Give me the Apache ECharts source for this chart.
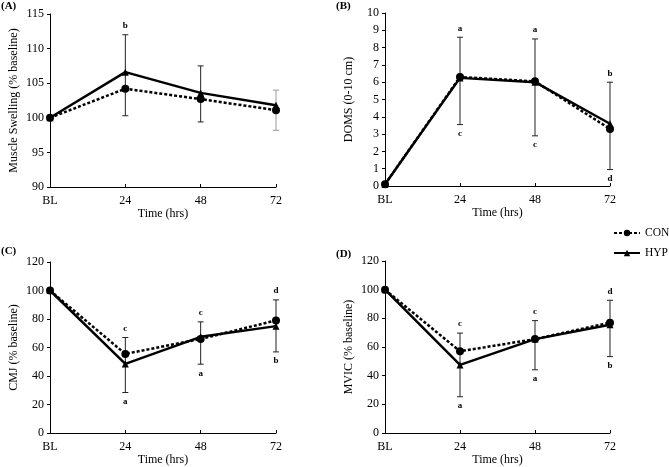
<!DOCTYPE html>
<html>
<head>
<meta charset="utf-8">
<script src="https://cdn.jsdelivr.net/npm/echarts@6/dist/echarts.min.js"></script>
<style>
html,body{margin:0;padding:0;background:#fff;}
#chart{width:669px;height:467px;}
</style>
</head>
<body>
<div id="chart"></div>
<script>
var categories = ['BL', '24', '48', '72'];

// Panel A: Muscle Swelling
var conA = [100, 104.2, 102.7, 101.1];
var hypA = [100, 106.6, 103.6, 101.8];
var barTopA = [null, 112.0, 107.5, 104.0];
var barBotA = [null, 100.3, 99.4, 98.2];
var lettersTopA = ['', 'b', '', ''];
var lettersBotA = ['', '', '', ''];

// Panel B: DOMS
var conB = [0.1, 6.3, 6.05, 3.3];
var hypB = [0.1, 6.25, 6.0, 3.6];
var barTopB = [null, 8.6, 8.5, 6.0];
var barBotB = [null, 3.55, 2.9, 0.95];
var lettersTopB = ['', 'a', 'a', 'b'];
var lettersBotB = ['', 'c', 'c', 'd'];

// Panel C: CMJ
var conC = [100, 55.5, 66, 79];
var hypC = [100, 48.5, 67.5, 75];
var barTopC = [null, 67.0, 78.0, 93.4];
var barBotC = [null, 28.4, 48.3, 56.9];
var lettersTopC = ['', 'c', 'c', 'd'];
var lettersBotC = ['', 'a', 'a', 'b'];

// Panel D: MVIC
var conD = [100, 57, 65.5, 77];
var hypD = [100, 47.5, 65.5, 75.5];
var barTopD = [null, 69.7, 78.4, 92.6];
var barBotD = [null, 25.3, 44.1, 53.3];
var lettersTopD = ['', 'c', 'c', 'd'];
var lettersBotD = ['', 'a', 'a', 'b'];

var panels = [
  {tag: '(A)', yName: 'Muscle Swelling (% baseline)', min: 90, max: 115, interval: 5,
   con: conA, hyp: hypA, top: barTopA, bot: barBotA, lt: lettersTopA, lb: lettersBotA,
   grid: {left: 50, top: 14, width: 226, height: 173}, tagPos: [1, 1], grayLast: true},
  {tag: '(B)', yName: 'DOMS (0-10 cm)', min: 0, max: 10, interval: 1,
   con: conB, hyp: hypB, top: barTopB, bot: barBotB, lt: lettersTopB, lb: lettersBotB,
   grid: {left: 385, top: 13, width: 225, height: 173}, tagPos: [336, 1]},
  {tag: '(C)', yName: 'CMJ (% baseline)', min: 0, max: 120, interval: 20,
   con: conC, hyp: hypC, top: barTopC, bot: barBotC, lt: lettersTopC, lb: lettersBotC,
   grid: {left: 50, top: 262, width: 226, height: 173}, tagPos: [1, 246]},
  {tag: '(D)', yName: 'MVIC (% baseline)', min: 0, max: 120, interval: 20,
   con: conD, hyp: hypD, top: barTopD, bot: barBotD, lt: lettersTopD, lb: lettersBotD,
   grid: {left: 385, top: 261, width: 225, height: 174}, tagPos: [336, 249]}
];

var FONT = 'Liberation Serif';
var grids = [], xAxes = [], yAxes = [], series = [], graphics = [];

panels.forEach(function (p, k) {
  grids.push(p.grid);
  xAxes.push({
    type: 'category', gridIndex: k, data: categories, boundaryGap: false,
    name: 'Time (hrs)', nameLocation: 'middle', nameGap: 21,
    nameTextStyle: {fontFamily: FONT, fontSize: 12, color: '#000'},
    axisLine: {lineStyle: {color: '#000', width: 1}},
    axisTick: {inside: true, length: 3, lineStyle: {color: '#000'}},
    axisLabel: {fontFamily: FONT, fontSize: 12, color: '#000', margin: 8},
    splitLine: {show: false}
  });
  yAxes.push({
    type: 'value', gridIndex: k, min: p.min, max: p.max, interval: p.interval,
    name: p.yName, nameLocation: 'middle', nameGap: 30,
    nameTextStyle: {fontFamily: FONT, fontSize: 12, color: '#000'},
    axisLine: {show: true, lineStyle: {color: '#000', width: 1}},
    axisTick: {show: true, length: 3, lineStyle: {color: '#000'}},
    axisLabel: {fontFamily: FONT, fontSize: 12, color: '#000', margin: 6},
    splitLine: {show: false}
  });

  var barData = [];
  for (var i = 0; i < categories.length; i++) {
    if (p.top[i] != null) barData.push([i, p.bot[i], p.top[i]]);
  }
  (function (p) {
    series.push({
      type: 'custom', xAxisIndex: k, yAxisIndex: k, z: 1, silent: true,
      data: barData,
      encode: {x: 0, y: [1, 2]},
      renderItem: function (params, api) {
        var idx = api.value(0);
        var lo = api.coord([idx, api.value(1)]);
        var hi = api.coord([idx, api.value(2)]);
        var x = lo[0];
        var col = (p.grayLast && idx === 3) ? '#9a9a9a' : '#222';
        var children = [
          {type: 'line', shape: {x1: x, y1: lo[1], x2: x, y2: hi[1]}, style: {stroke: col, lineWidth: 1}},
          {type: 'line', shape: {x1: x - 3, y1: lo[1], x2: x + 3, y2: lo[1]}, style: {stroke: col, lineWidth: 1}},
          {type: 'line', shape: {x1: x - 3, y1: hi[1], x2: x + 3, y2: hi[1]}, style: {stroke: col, lineWidth: 1}}
        ];
        if (p.lt[idx]) {
          children.push({type: 'text', x: x, y: hi[1] - 9,
            style: {text: p.lt[idx], fontFamily: FONT, fontSize: 9, fontWeight: 'bold', fill: '#000', align: 'center', verticalAlign: 'middle'}});
        }
        if (p.lb[idx]) {
          children.push({type: 'text', x: x, y: lo[1] + 9,
            style: {text: p.lb[idx], fontFamily: FONT, fontSize: 9, fontWeight: 'bold', fill: '#000', align: 'center', verticalAlign: 'middle'}});
        }
        return {type: 'group', children: children};
      }
    });
  })(p);

  series.push({
    name: 'CON', type: 'line', xAxisIndex: k, yAxisIndex: k, data: p.con, z: 3,
    symbol: 'circle', symbolSize: 8, showAllSymbol: true,
    itemStyle: {color: '#000'},
    lineStyle: {color: '#000', width: 2.5, type: [3, 2]}
  });
  series.push({
    name: 'HYP', type: 'line', xAxisIndex: k, yAxisIndex: k, data: p.hyp, z: 4,
    symbol: 'triangle', symbolSize: 7, showAllSymbol: true,
    itemStyle: {color: '#000'},
    lineStyle: {color: '#000', width: 2.5, type: 'solid'}
  });

  graphics.push({
    type: 'text', left: p.tagPos[0], top: p.tagPos[1],
    style: {text: p.tag, fontFamily: FONT, fontSize: 11, fontWeight: 'bold', fill: '#000'}
  });
});

var chart = echarts.init(document.getElementById('chart'), null, {renderer: 'canvas'});
chart.setOption({
  animation: false,
  backgroundColor: '#fff',
  grid: grids,
  xAxis: xAxes,
  yAxis: yAxes,
  series: series,
  graphic: graphics,
  legend: {
    data: ['CON', 'HYP'], orient: 'vertical', left: 613, top: 227,
    itemWidth: 26, itemHeight: 8, itemGap: 8, padding: 0,
    textStyle: {fontFamily: FONT, fontSize: 11.5, color: '#000'},
    selectedMode: false
  }
});
</script>
</body>
</html>
